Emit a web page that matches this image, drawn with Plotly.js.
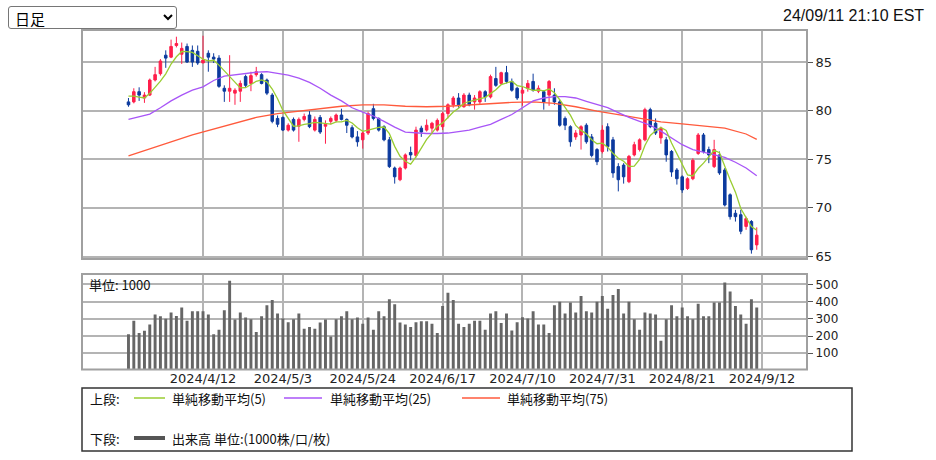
<!DOCTYPE html>
<html><head><meta charset="utf-8">
<script src="https://cdn.plot.ly/plotly-3.0.1.min.js"></script>
<style>
html,body{margin:0;padding:0;background:#fff;width:936px;height:460px;overflow:hidden;}
#chart{position:absolute;left:0;top:0;width:936px;height:460px;}
#sel{position:absolute;left:8px;top:6px;width:169px;height:23px;font-size:15px;font-family:"Noto Sans CJK JP",sans-serif;background:#fff;border:1px solid #767676;border-radius:3px;color:#000;padding:0 2px;}
</style></head><body>
<div id="chart"></div>
<select id="sel"><option>日足</option></select>
<script>
// ---- data ----
const tickLabels = ['2024/4/12','2024/5/3','2024/5/24','2024/6/17','2024/7/10','2024/7/31','2024/8/21','2024/9/12'];
const tickIndex = [14,29,44,59,74,89,104,119];

const opens = [80.9,80.9,81.95,81.3,81.6,83.15,83.8,85.7,85.5,86.7,
85.8,86.6,86.2,86.1,84.9,85.9,85.5,85.4,82.3,82.0,
81.8,82.0,83.5,82.8,83.7,83.7,83.15,81.6,79.2,79.3,
78.0,79.1,78.4,79.1,79.55,78.0,79.3,78.4,78.9,79.0,
79.55,79.1,78.25,77.3,77.0,77.7,80.2,79.2,78.35,77.0,
74.1,72.9,74.1,75.7,75.4,78.2,78.0,78.2,78.0,78.35,
79.7,80.6,81.3,80.4,81.6,80.9,80.9,81.95,81.4,83.3,
82.8,83.9,83.0,82.3,81.8,82.3,83.0,82.0,81.95,81.6,
81.6,80.9,79.2,78.35,77.3,77.5,78.5,77.3,76.0,75.8,
78.35,77.0,74.25,74.4,72.7,75.45,76.0,77.0,80.1,78.7,
77.2,77.0,75.8,73.9,73.2,72.0,73.0,75.6,77.5,76.0,
74.25,75.45,73.9,71.35,69.45,69.3,68.1,68.6,66.2];
const highs = [81.3,82.3,82.4,81.9,83.3,84.5,85.3,86.2,87.3,87.6,
87.0,86.9,86.7,86.7,87.7,86.2,85.9,85.7,82.6,85.7,
82.3,83.1,83.7,84.0,84.5,83.85,83.3,81.8,79.5,79.4,
78.7,79.3,79.3,79.7,79.95,79.4,79.55,79.0,79.4,79.7,
80.2,79.2,78.5,77.9,77.85,79.9,80.7,79.3,78.5,77.3,
74.25,74.25,75.6,76.3,78.35,78.45,79.1,78.85,79.2,79.9,
80.75,81.5,81.8,81.8,81.85,81.6,82.1,82.1,83.7,84.5,
84.0,84.6,83.3,82.45,82.45,83.15,83.8,82.6,82.1,83.15,
82.3,81.1,79.4,78.5,78.0,78.5,78.7,77.6,76.15,78.5,
78.7,77.3,74.6,74.6,75.45,76.8,77.15,80.3,80.3,79.2,
78.35,77.3,75.95,74.1,73.35,73.15,75.1,77.7,77.7,76.3,
77.0,75.8,74.1,71.5,69.8,69.8,69.1,68.75,68.0];
const lows = [80.4,80.75,81.0,80.8,81.5,83.0,83.6,84.4,85.4,86.5,
84.8,84.9,84.5,84.7,84.9,84.0,84.9,82.35,80.9,80.9,
80.6,80.9,82.4,82.0,83.5,82.7,81.6,78.7,78.3,77.9,
77.85,77.85,76.8,78.9,78.2,77.85,77.6,76.6,78.6,78.8,
79.0,77.7,77.15,76.3,76.1,77.5,79.0,77.85,76.85,74.1,
72.5,72.75,73.95,74.9,75.2,77.3,77.85,77.7,77.85,78.0,
79.2,80.3,80.3,80.3,80.45,80.1,80.6,80.9,81.25,82.45,
82.65,82.8,81.95,81.1,80.5,81.95,81.95,81.8,80.1,80.5,
80.6,78.35,78.0,76.3,77.0,76.0,76.6,75.2,74.4,75.6,
75.8,73.1,71.7,72.5,72.55,75.3,75.8,76.85,78.2,77.5,
76.6,74.75,73.2,72.4,71.55,71.85,72.85,75.45,75.6,74.6,
74.1,73.4,70.15,68.8,68.6,67.3,67.75,65.3,65.7];
const closes = [80.6,81.95,81.6,81.6,83.15,83.7,85.1,85.4,86.6,86.9,
86.4,85.0,85.0,84.9,85.2,85.5,85.3,82.5,82.0,82.3,
82.1,82.8,82.6,83.6,84.0,82.8,81.8,78.9,78.6,78.0,
78.5,78.0,79.1,79.4,78.35,79.1,77.8,78.6,79.2,79.55,
79.1,78.5,77.3,76.8,77.7,79.7,79.2,78.0,77.0,74.25,
73.2,74.1,75.45,75.45,78.0,77.8,78.5,78.7,79.0,79.7,
80.6,81.3,80.6,81.6,80.6,81.3,81.95,81.4,83.5,82.6,
83.9,83.0,82.1,81.3,82.1,82.8,82.1,82.3,80.9,83.0,
80.9,78.5,78.5,76.8,77.7,78.35,76.8,75.4,74.75,78.0,
76.3,73.6,72.9,73.2,75.3,76.5,77.0,80.1,78.35,77.7,
78.2,75.45,73.7,73.0,71.85,73.0,74.9,77.5,75.8,75.45,
76.0,73.6,70.3,69.1,69.1,67.6,68.9,65.7,67.2];
const volumes = [210,288,218,230,267,325,315,300,337,317,
366,288,344,344,344,325,210,237,350,521,
296,337,307,298,224,315,379,409,331,302,
280,298,331,243,253,243,278,296,198,298,
315,344,298,307,272,307,237,344,315,414,
385,278,267,253,280,286,286,272,218,374,
451,409,272,253,272,288,288,237,331,344,
276,331,232,280,309,302,344,267,267,218,
379,399,331,395,337,432,344,337,399,432,
358,438,473,331,399,298,237,337,331,325,
173,298,379,315,366,315,298,387,315,315,
395,395,510,459,374,325,272,414,366];
// 5-day MA for the first four days (needs earlier closes)
const ma5Head = [81.5,81.5,81.4,81.3];
// 25-day and 75-day MAs at sample days
const ma25Idx = [0,2,4,6,8,10,12,14,16,18,20,22,24,26,28,30,32,34,36,38,40,42,44,46,48,50,52,54,56,58,60,62,64,66,68,70,72,74,76,78,80,82,84,86,88,90,92,94,96,98,100,102,104,106,108,110,112,114,116,118];
const ma25Val = [79.1,79.35,79.65,80.3,81.0,81.6,82.1,82.45,83.1,83.55,83.7,83.8,83.95,84.0,83.85,83.65,83.35,82.9,82.3,81.6,81.0,80.3,79.85,79.45,78.9,78.3,77.8,77.7,77.65,77.65,77.7,77.85,78.0,78.3,78.6,79.1,79.6,80.3,81.0,81.3,81.45,81.45,81.3,80.95,80.6,80.3,79.8,79.3,78.9,78.5,77.9,77.2,76.5,76.0,75.75,75.5,75.2,74.7,74.1,73.3];
const ma75Idx = [0,4,8,12,16,20,24,28,32,36,40,44,48,52,56,60,64,68,72,76,80,84,88,92,96,100,104,108,112,116,118];
const ma75Val = [75.35,76.1,76.8,77.5,78.1,78.7,79.3,79.7,79.95,80.2,80.45,80.6,80.6,80.45,80.4,80.45,80.6,80.75,80.85,80.9,80.75,80.4,79.95,79.6,79.2,78.85,78.65,78.4,78.2,77.6,77.05];

// ---- derived ----
const idx = closes.map((_, i) => i);
const ma5 = closes.map((c, i) => {
  if (i < 4) return ma5Head[i];
  let s = 0; for (let k = i - 4; k <= i; k++) s += closes[k];
  return s / 5;
});

const W = 936, H = 460;
const px = x => x / W, py = y => 1 - y / H;

const RED = '#ff1f4b', BLUE = '#0c3a9e';
const GREEN = '#9acd32', PURPLE = '#a855f7', ORANGE = '#ff5a3c';
const GRID = '#b4b4b4';
const FONT = 'DejaVu Sans, sans-serif';
const JP = 'Noto Sans CJK JP, sans-serif';

const traces = [
  {type:'candlestick', x: idx, open: opens, high: highs, low: lows, close: closes,
   xaxis:'x', yaxis:'y', whiskerwidth:0,
   increasing:{line:{color:RED, width:1}, fillcolor:RED},
   decreasing:{line:{color:BLUE, width:1}, fillcolor:BLUE},
   hoverinfo:'skip', showlegend:false},
  {type:'scatter', mode:'lines', x: ma75Idx, y: ma75Val, line:{color:ORANGE, width:1.3}, xaxis:'x', yaxis:'y', showlegend:false, hoverinfo:'skip'},
  {type:'scatter', mode:'lines', x: ma25Idx, y: ma25Val, line:{color:PURPLE, width:1.3}, xaxis:'x', yaxis:'y', showlegend:false, hoverinfo:'skip'},
  {type:'scatter', mode:'lines', x: idx, y: ma5, line:{color:GREEN, width:1.3}, xaxis:'x', yaxis:'y', showlegend:false, hoverinfo:'skip'},
  {type:'bar', x: idx, y: volumes, width:0.55, marker:{color:'#666666', line:{width:0}}, xaxis:'x2', yaxis:'y2', showlegend:false, hoverinfo:'skip'}
];

const xr = [-8.73, 127.44];
const xdom = [px(82), px(807)];

const layout = {
  width: W, height: H, margin:{l:0,r:0,t:0,b:0},
  paper_bgcolor:'#fff', plot_bgcolor:'#fff',
  showlegend:false, boxgap:0.32,
  font:{family:FONT, size:13, color:'#222'},
  xaxis:{domain:xdom, range:xr, anchor:'y', tickvals:tickIndex, ticktext:tickLabels, showticklabels:false,
         showgrid:true, gridcolor:GRID, gridwidth:2, zeroline:false, showline:false, ticks:'',
         rangeslider:{visible:false}, fixedrange:true},
  yaxis:{domain:[py(259), py(30)], range:[64.75, 88.29], side:'right', anchor:'x',
         tickvals:[65,70,75,80,85], ticktext:['65','70','75','80','85'],
         showgrid:true, gridcolor:GRID, gridwidth:2, zeroline:false, showline:false,
         ticks:'outside', ticklen:5, tickcolor:'#555', tickwidth:1,
         tickfont:{family:FONT, size:13, color:'#222'}, fixedrange:true},
  xaxis2:{domain:xdom, range:xr, anchor:'y2', tickvals:tickIndex, ticktext:tickLabels,
         showgrid:true, gridcolor:GRID, gridwidth:2, zeroline:false, showline:false, ticks:'',
         tickfont:{family:FONT, size:13, color:'#222'}, fixedrange:true},
  yaxis2:{domain:[py(369.3), py(274)], range:[7, 560], side:'right', anchor:'x2',
         tickvals:[100,200,300,400,500], ticktext:['100','200','300','400','500'],
         showgrid:true, gridcolor:GRID, gridwidth:2, zeroline:false, showline:false,
         ticks:'outside', ticklen:5, tickcolor:'#555', tickwidth:1,
         tickfont:{family:FONT, size:12, color:'#222'}, fixedrange:true},
  shapes:[
    {type:'rect', xref:'paper', yref:'paper', x0:px(82), x1:px(807), y0:py(259), y1:py(30), line:{color:'#a0a0a0', width:2}},
    {type:'rect', xref:'paper', yref:'paper', x0:px(82), x1:px(807), y0:py(369.5), y1:py(274), line:{color:'#a0a0a0', width:2}},
    {type:'rect', xref:'paper', yref:'paper', x0:px(82), x1:px(852), y0:py(451), y1:py(388), line:{color:'#333', width:1.5}},
    {type:'line', xref:'paper', yref:'paper', x0:px(134), x1:px(165), y0:py(398), y1:py(398), line:{color:GREEN, width:1.5}},
    {type:'line', xref:'paper', yref:'paper', x0:px(284), x1:px(322), y0:py(398), y1:py(398), line:{color:PURPLE, width:1.5}},
    {type:'line', xref:'paper', yref:'paper', x0:px(462), x1:px(500), y0:py(398), y1:py(398), line:{color:ORANGE, width:1.5}},
    {type:'line', xref:'paper', yref:'paper', x0:px(134), x1:px(165), y0:py(438), y1:py(438), line:{color:'#555', width:4}}
  ],
  annotations:[
    {xref:'paper', yref:'paper', x:px(926), y:py(15), xanchor:'right', yanchor:'middle', showarrow:false,
     text:'24/09/11 21:10 EST', font:{family:'Liberation Sans, Arial, sans-serif', size:16, color:'#111'}},
    {xref:'paper', yref:'paper', x:px(87), y:py(284), xanchor:'left', yanchor:'middle', showarrow:false,
     text:'単位: 1000', font:{family:JP, size:13, color:'#111'}},
    {xref:'paper', yref:'paper', x:px(88), y:py(398), xanchor:'left', yanchor:'middle', showarrow:false,
     text:'上段:', font:{family:JP, size:13, color:'#111'}},
    {xref:'paper', yref:'paper', x:px(170), y:py(398), xanchor:'left', yanchor:'middle', showarrow:false,
     text:'単純移動平均(5)', font:{family:JP, size:13, color:'#111'}},
    {xref:'paper', yref:'paper', x:px(328), y:py(398), xanchor:'left', yanchor:'middle', showarrow:false,
     text:'単純移動平均(25)', font:{family:JP, size:13, color:'#111'}},
    {xref:'paper', yref:'paper', x:px(505), y:py(398), xanchor:'left', yanchor:'middle', showarrow:false,
     text:'単純移動平均(75)', font:{family:JP, size:13, color:'#111'}},
    {xref:'paper', yref:'paper', x:px(88), y:py(438), xanchor:'left', yanchor:'middle', showarrow:false,
     text:'下段:', font:{family:JP, size:13, color:'#111'}},
    {xref:'paper', yref:'paper', x:px(170), y:py(438), xanchor:'left', yanchor:'middle', showarrow:false,
     text:'出来高 単位:(1000株/口/枚)', font:{family:JP, size:13, color:'#111'}}
  ]
};

Plotly.newPlot('chart', traces, layout, {staticPlot:true, displayModeBar:false});
</script></body></html>
